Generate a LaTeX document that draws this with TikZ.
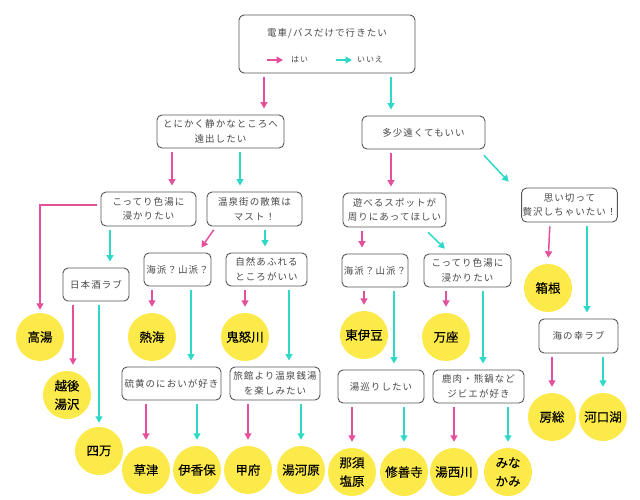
\documentclass[tikz,border=0pt]{standalone}
\usepackage{fontspec}
\setmainfont{Noto Sans CJK JP}
\newfontfamily\boxfont{Noto Sans CJK JP}[LetterSpace=11]
\newfontfamily\spafont{Noto Sans CJK JP}[FakeBold=0.2]
\usetikzlibrary{arrows.meta}
\definecolor{yespink}{HTML}{E4509C}
\definecolor{nocyan}{HTML}{2FD9C8}
\definecolor{spayellow}{HTML}{FCE94A}
\definecolor{boxgray}{HTML}{555555}
\definecolor{txtgray}{HTML}{484848}
\tikzset{
  box/.style={draw=boxgray, line width=0.9pt, rounded corners=5pt, align=center,
    inner sep=1pt, minimum height=33pt, text=txtgray,
    font=\boxfont\fontsize{9.5}{14.5}\selectfont},
  boxtxt/.style={inner sep=0pt, text=txtgray, font=\boxfont\fontsize{9.5}{14.5}\selectfont},
  legend/.style={inner sep=0pt, anchor=west, text=txtgray, font=\boxfont\fontsize{8}{10}\selectfont},
  spa/.style={circle, fill=spayellow, minimum size=48pt, inner sep=0pt, align=center,
    font=\spafont\fontsize{12.5}{18.5}\selectfont},
  yes/.style={-{Triangle[length=6.5pt,width=7pt]}, line width=1.5pt, draw=yespink},
  no/.style={-{Triangle[length=6.5pt,width=7pt]}, line width=1.5pt, draw=nocyan},
  link/.style={shorten <=4pt, shorten >=6pt}
}
\begin{document}
\begin{tikzpicture}[x=1pt, y=-1pt]
  \useasboundingbox (0,0) rectangle (640,500);
  % start box with legend
  \node[box, minimum width=176pt, minimum height=58pt] (start) at (327,44) {};
  \node[boxtxt] (starttxt) at (327,33) {電車/バスだけで行きたい};
  \node[legend] (lyes) at (291,60) {はい};
  \node[legend] (lno) at (357,60) {いいえ};
  \draw[yes] ([xshift=-24pt]lyes.west) -- ([xshift=-8pt]lyes.west);
  \draw[no] ([xshift=-21pt]lno.west) -- ([xshift=-5pt]lno.west);
  % questions
  \node[box, minimum width=127pt] (quiet) at (220.5,131.5) {とにかく静かなところへ\\遠出したい};
  \node[box, minimum width=123pt] (far) at (423.5,132.5) {多少遠くてもいい};
  \node[box, minimum width=95pt, minimum height=34pt] (nigori) at (148.5,209) {こってり色湯に\\浸かりたい};
  \node[box, minimum width=95pt, minimum height=34pt] (stroll) at (254.5,209) {温泉街の散策は\\マスト！};
  \node[box, minimum width=66pt] (sake) at (96,284.5) {日本酒ラブ};
  \node[box, minimum width=67pt] (seamtn) at (177.5,269.5) {海派？山派？};
  \node[box, minimum width=81pt] (nature) at (266.5,269.5) {自然あふれる\\ところがいい};
  \node[box, minimum width=99pt] (sulfur) at (171.5,383.5) {硫黄のにおいが好き};
  \node[box, minimum width=90pt] (sento) at (275,383.5) {旅館より温泉銭湯\\を楽しみたい};
  \node[box, minimum width=103pt, minimum height=34pt] (play) at (394.5,210) {遊べるスポットが\\周りにあってほしい};
  \node[box, minimum width=91pt, minimum height=34pt] (luxury) at (569.5,205) {思い切って\\贅沢しちゃいたい！};
  \node[box, minimum width=66pt] (seamtnb) at (375,270.5) {海派？山派？};
  \node[box, minimum width=87pt] (nigorib) at (467.5,270.5) {こってり色湯に\\浸かりたい};
  \node[box, minimum width=79pt, minimum height=34pt] (seafood) at (578.5,336) {海の幸ラブ};
  \node[box, minimum width=86pt] (hopping) at (381,386.5) {湯巡りしたい};
  \node[box, minimum width=91pt] (gibier) at (478.5,386.5) {鹿肉・熊鍋など\\ジビエが好き};
  % onsen
  \node[spa] (takayu) at (40,337) {高湯};
  \node[spa] (echigo) at (67,395) {越後\\湯沢};
  \node[spa] (shima) at (99,451) {四万};
  \node[spa] (atami) at (152,337) {熱海};
  \node[spa] (kinugawa) at (245,337) {鬼怒川};
  \node[spa] (kusatsu) at (146,470) {草津};
  \node[spa] (ikaho) at (197,470) {伊香保};
  \node[spa] (kofu) at (248,470) {甲府};
  \node[spa] (yugawara) at (301,470) {湯河原};
  \node[spa] (hakone) at (548,288) {箱根};
  \node[spa] (higashiizu) at (364,335) {東伊豆};
  \node[spa] (manza) at (446,337) {万座};
  \node[spa] (boso) at (552,417) {房総};
  \node[spa] (kawaguchiko) at (603,417) {河口湖};
  \node[spa] (nasu) at (352,472) {那須\\塩原};
  \node[spa] (shuzenji) at (404,472) {修善寺};
  \node[spa] (yunishikawa) at (454,472) {湯西川};
  \node[spa] (minakami) at (508,472) {みな\\かみ};
  % arrows
  \draw[yes, link] ([xshift=-63pt]start.south) -- ([xshift=-63pt]start.south |- quiet.north);
  \draw[no, link] ([xshift=64pt]start.south) -- ([xshift=64pt]start.south |- far.north);
  \draw[yes, link] ([xshift=-48.5pt]quiet.south) -- ([xshift=-48.5pt]quiet.south |- nigori.north);
  \draw[no, link] ([xshift=19.5pt]quiet.south) -- ([xshift=19.5pt]quiet.south |- stroll.north);
  \draw[yes, shorten <=4pt, shorten >=3pt] ([yshift=4pt]nigori.west) -| (takayu.north);
  \draw[no, link] ([xshift=-38.5pt]nigori.south) -- ([xshift=-38.5pt]nigori.south |- sake.north);
  \draw[yes, link] ([xshift=-23pt]sake.south) -- ([xshift=-23pt]sake.south |- echigo.north);
  \draw[no, shorten <=4pt, shorten >=4pt] ([xshift=3pt]sake.south) -- ([xshift=3pt]sake.south |- shima.north);
  \draw[yes, link] ([xshift=-38.5pt]stroll.south) -- ([xshift=20.5pt]seamtn.north);
  \draw[no, link] ([xshift=10.5pt]stroll.south) -- ([xshift=10.5pt]stroll.south |- nature.north);
  \draw[yes, link] ([xshift=-25.5pt]seamtn.south) -- (atami.north);
  \draw[no, link] ([xshift=13.5pt]seamtn.south) -- ([xshift=13.5pt]seamtn.south |- sulfur.north);
  \draw[yes, link] ([xshift=-21.5pt]nature.south) -- (kinugawa.north);
  \draw[no, link] ([xshift=22.5pt]nature.south) -- ([xshift=22.5pt]nature.south |- sento.north);
  \draw[yes, link] ([xshift=-25.5pt]sulfur.south) -- (kusatsu.north);
  \draw[no, link] ([xshift=25.5pt]sulfur.south) -- (ikaho.north);
  \draw[yes, link] ([xshift=-27pt]sento.south) -- (kofu.north);
  \draw[no, link] ([xshift=26pt]sento.south) -- (yugawara.north);
  \draw[yes, link] ([xshift=-32.5pt]far.south) -- ([xshift=-32.5pt]far.south |- play.north);
  \draw[no, shorten <=8pt, shorten >=8pt] ([xshift=-7pt]far.south east) -- ([xshift=-7pt]luxury.north west);
  \draw[yes, link] ([xshift=-32.5pt]play.south) -- ([xshift=-32.5pt]play.south |- seamtnb.north);
  \draw[no, shorten <=7pt, shorten >=7pt] ([xshift=28.5pt]play.south) -- ([xshift=-17.5pt]nigorib.north);
  \draw[yes, link] ([xshift=-19.5pt]luxury.south) -- (hakone.north);
  \draw[no, link] ([xshift=17.5pt]luxury.south) -- ([xshift=17.5pt]luxury.south |- seafood.north);
  \draw[yes, link] ([xshift=-11pt]seamtnb.south) -- (higashiizu.north);
  \draw[no, link] ([xshift=19pt]seamtnb.south) -- ([xshift=19pt]seamtnb.south |- hopping.north);
  \draw[yes, link] ([xshift=-21.5pt]nigorib.south) -- (manza.north);
  \draw[no, link] ([xshift=15.5pt]nigorib.south) -- ([xshift=15.5pt]nigorib.south |- gibier.north);
  \draw[yes, link] ([xshift=-26.5pt]seafood.south) -- (boso.north);
  \draw[no, link] ([xshift=24.5pt]seafood.south) -- (kawaguchiko.north);
  \draw[yes, link] ([xshift=-29pt]hopping.south) -- (nasu.north);
  \draw[no, link] ([xshift=23pt]hopping.south) -- (shuzenji.north);
  \draw[yes, link] ([xshift=-24.5pt]gibier.south) -- (yunishikawa.north);
  \draw[no, link] ([xshift=29.5pt]gibier.south) -- (minakami.north);
\end{tikzpicture}
\end{document}
